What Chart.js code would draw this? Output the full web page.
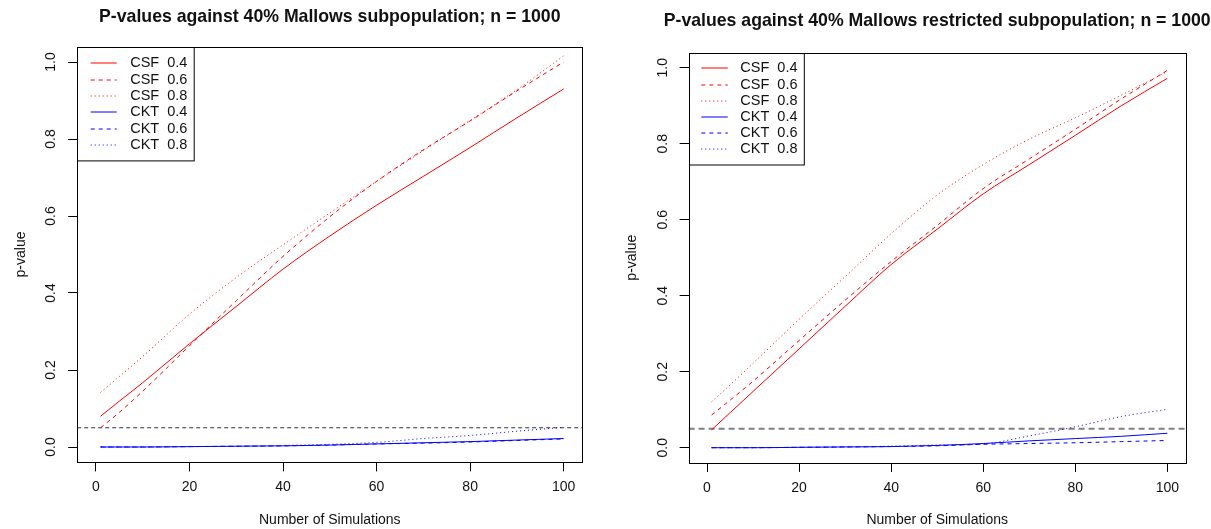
<!DOCTYPE html>
<html>
<head>
<meta charset="utf-8">
<script src="https://cdn.jsdelivr.net/npm/chart.js@4.4.1/dist/chart.umd.min.js"></script>
<style>
    body { margin: 0; background: #fff; }
    #wrap { position: relative; width: 1211px; height: 529px; }
    canvas { position: absolute; top: 0; }
</style>
</head>
<body>
<div id="wrap">
    <canvas id="leftChart" width="605" height="529" style="left:0"></canvas>
    <canvas id="rightChart" width="606" height="529" style="left:605px"></canvas>
</div>
<script>
const sims = [1, 5, 10, 20, 30, 40, 50, 60, 70, 80, 90, 100];
const xTicks = [0, 20, 40, 60, 80, 100];
const yTicks = [0, 0.2, 0.4, 0.6, 0.8, 1.0];
const xRange = [-4, 104];
const yRange = [-0.04, 1.04];
const threshold = 0.05;
const seriesNames = ["CSF  0.4", "CSF  0.6", "CSF  0.8", "CKT  0.4", "CKT  0.6", "CKT  0.8"];

// 40% Mallows subpopulation
const csf04 = [0.080, 0.119, 0.167, 0.268, 0.365, 0.462, 0.548, 0.628, 0.703, 0.778, 0.855, 0.930];
const csf06 = [0.050, 0.090, 0.145, 0.263, 0.380, 0.495, 0.598, 0.690, 0.772, 0.847, 0.925, 1.000];
const csf08 = [0.142, 0.183, 0.235, 0.345, 0.440, 0.525, 0.608, 0.690, 0.770, 0.848, 0.928, 1.016];
const ckt04 = [0.000, 0.000, 0.000, 0.001, 0.002, 0.003, 0.005, 0.008, 0.011, 0.014, 0.018, 0.022];
const ckt06 = [0.000, 0.000, 0.000, 0.001, 0.002, 0.003, 0.005, 0.008, 0.010, 0.013, 0.017, 0.021];
const ckt08 = [0.000, 0.000, 0.000, 0.001, 0.002, 0.004, 0.007, 0.012, 0.022, 0.030, 0.041, 0.051];

// 40% Mallows restricted subpopulation
const rCsf04 = [0.047, 0.092, 0.148, 0.260, 0.372, 0.482, 0.575, 0.668, 0.745, 0.822, 0.900, 0.972];
const rCsf06 = [0.086, 0.125, 0.175, 0.282, 0.388, 0.490, 0.585, 0.682, 0.760, 0.838, 0.918, 0.993];
const rCsf08 = [0.121, 0.165, 0.222, 0.338, 0.450, 0.563, 0.665, 0.745, 0.812, 0.868, 0.928, 0.990];
const rCkt04 = [0.000, 0.000, 0.000, 0.001, 0.002, 0.003, 0.006, 0.011, 0.018, 0.024, 0.030, 0.038];
const rCkt06 = [0.000, 0.000, 0.000, 0.001, 0.002, 0.003, 0.005, 0.009, 0.011, 0.013, 0.016, 0.019];
const rCkt08 = [0.000, 0.000, 0.000, 0.001, 0.002, 0.004, 0.007, 0.010, 0.031, 0.055, 0.082, 0.101];

const FONT = "'Liberation Sans', Arial, sans-serif";
const TEXT = "#111";

function makeDatasets(series, ablineStyle) {
    const colors = ["#ff0000", "#ff0000", "#ff0000", "#0000ff", "#0000ff", "#0000ff"];
    const dashes = [[], [4, 4], [1, 3], [], [4, 4], [1, 3]];

    let datasets = series.map((values, i) => ({
        label: seriesNames[i],
        data: sims.map((s, j) => ({x: s, y: values[j]})),
        borderColor: colors[i],
        borderDash: dashes[i],
        borderWidth: 1,
        pointRadius: 0,
        cubicInterpolationMode: "monotone"
    }));

    // horizontal reference line at p = 0.05
    datasets.push({
        data: xRange.map(x => ({x: x, y: threshold})),
        borderColor: ablineStyle.color,
        borderDash: ablineStyle.dash,
        borderWidth: ablineStyle.width,
        pointRadius: 0
    });

    return datasets;
}

// R style box around the plot region
const plotFrame = {
    id: "plotFrame",
    afterDraw(chart) {
        const {left, top, right, bottom} = chart.chartArea;
        const ctx = chart.ctx;
        ctx.save();
        ctx.strokeStyle = "#000";
        ctx.lineWidth = 1;
        ctx.strokeRect(Math.round(left) + 0.5, Math.round(top) + 0.5,
            Math.round(right) - Math.round(left), Math.round(bottom) - Math.round(top));
        ctx.restore();
    }
};

// the main title may run wider than the plot, as in R, so don't squeeze it
const wideTitle = {
    id: "wideTitle",
    afterLayout(chart) {
        const t = chart.titleBlock;
        if (t) {
            t.left -= 60;
            t.right += 60;
            t.width += 120;
        }
    }
};

// legend drawn inside the plot, top left, with line samples
const boxLegend = {
    id: "boxLegend",
    afterDraw(chart, args, opts) {
        const {left, top} = chart.chartArea;
        const ctx = chart.ctx;

        ctx.save();
        ctx.strokeStyle = "#000";
        ctx.lineWidth = 1;
        ctx.strokeRect(Math.round(left) + 0.5, Math.round(top) + 0.5, opts.width, opts.height);

        chart.data.datasets.filter(d => d.label).forEach((ds, i) => {
            const y = top + opts.firstRow + i * opts.rowStep;
            ctx.strokeStyle = ds.borderColor;
            ctx.setLineDash(ds.borderDash);
            ctx.beginPath();
            ctx.moveTo(left + opts.lineStart, Math.round(y));
            ctx.lineTo(left + opts.lineEnd, Math.round(y));
            ctx.stroke();
            ctx.setLineDash([]);

            ctx.fillStyle = TEXT;
            ctx.font = opts.fontSize + "px " + FONT;
            ctx.textBaseline = "middle";
            ctx.textAlign = "left";
            ctx.fillText(ds.label, left + opts.textX, y);
        });
        ctx.restore();
    }
};

function createPlot(canvasId, setup) {
    const canvas = document.getElementById(canvasId);
    const area = setup.area;

    return new Chart(canvas, {
        type: "line",
        data: {datasets: makeDatasets(setup.series, setup.abline)},
        options: {
            responsive: false,
            animation: false,
            devicePixelRatio: 1,
            layout: {
                padding: {left: 0, top: 0, bottom: 0, right: canvas.width - area.right}
            },
            scales: {
                x: {
                    type: "linear",
                    min: xRange[0],
                    max: xRange[1],
                    afterBuildTicks: scale => { scale.ticks = xTicks.map(v => ({value: v})); },
                    afterFit: scale => { scale.height = canvas.height - area.bottom; },
                    grid: {drawOnChartArea: false, drawTicks: true, tickLength: 9, color: "#000"},
                    border: {display: false},
                    ticks: {
                        color: TEXT,
                        autoSkip: false,
                        maxRotation: 0,
                        padding: setup.xTickPad,
                        font: {size: 14, family: FONT}
                    },
                    title: {
                        display: true,
                        text: "Number of Simulations",
                        color: TEXT,
                        font: {size: 14, family: FONT},
                        padding: {top: 0, bottom: setup.xTitlePad}
                    }
                },
                y: {
                    type: "linear",
                    min: yRange[0],
                    max: yRange[1],
                    afterBuildTicks: scale => { scale.ticks = yTicks.map(v => ({value: v})); },
                    afterFit: scale => { scale.width = area.left; },
                    grid: {drawOnChartArea: false, drawTicks: true, tickLength: 9, color: "#000"},
                    border: {display: false},
                    ticks: {
                        color: TEXT,
                        autoSkip: false,
                        minRotation: 90,
                        maxRotation: 90,
                        crossAlign: "center",
                        padding: 7,
                        font: {size: 14, family: FONT},
                        callback: v => v.toFixed(1)
                    },
                    title: {
                        display: true,
                        text: "p-value",
                        color: TEXT,
                        font: {size: 14, family: FONT},
                        padding: {top: setup.yTitlePad, bottom: 0}
                    }
                }
            },
            plugins: {
                legend: {display: false},
                tooltip: {enabled: false},
                title: {
                    display: true,
                    fullSize: false,
                    text: setup.title,
                    color: TEXT,
                    font: {size: 17.7, weight: "bold", family: FONT},
                    padding: {top: setup.titlePad, bottom: area.top - setup.titlePad - 21.24}
                },
                boxLegend: setup.legend
            }
        },
        plugins: [plotFrame, wideTitle, boxLegend]
    });
}

createPlot("leftChart", {
    title: "P-values against 40% Mallows subpopulation; n = 1000",
    series: [csf04, csf06, csf08, ckt04, ckt06, ckt08],
    area: {left: 77.2, right: 582.4, top: 46.6, bottom: 462.4},
    titlePad: 6,
    xTickPad: 7,
    xTitlePad: 0,
    yTitlePad: 13,
    abline: {color: "#333", width: 1, dash: [4, 3]},
    legend: {width: 116.7, height: 113.4, firstRow: 16.7, rowStep: 16.3,
             lineStart: 13.5, lineEnd: 39.5, textX: 53, fontSize: 14.5}
});

createPlot("rightChart", {
    title: "P-values against 40% Mallows restricted subpopulation; n = 1000",
    series: [rCsf04, rCsf06, rCsf08, rCkt04, rCkt06, rCkt08],
    area: {left: 83.6, right: 580.8, top: 52.5, bottom: 462.9},
    titlePad: 10.5,
    xTickPad: 8,
    xTitlePad: 0,
    yTitlePad: 19,
    abline: {color: "#808080", width: 2, dash: [6, 4]},
    legend: {width: 114.8, height: 111.5, firstRow: 15.8, rowStep: 16.2,
             lineStart: 12.7, lineEnd: 39.2, textX: 51.7, fontSize: 14.5}
});
</script>
</body>
</html>
